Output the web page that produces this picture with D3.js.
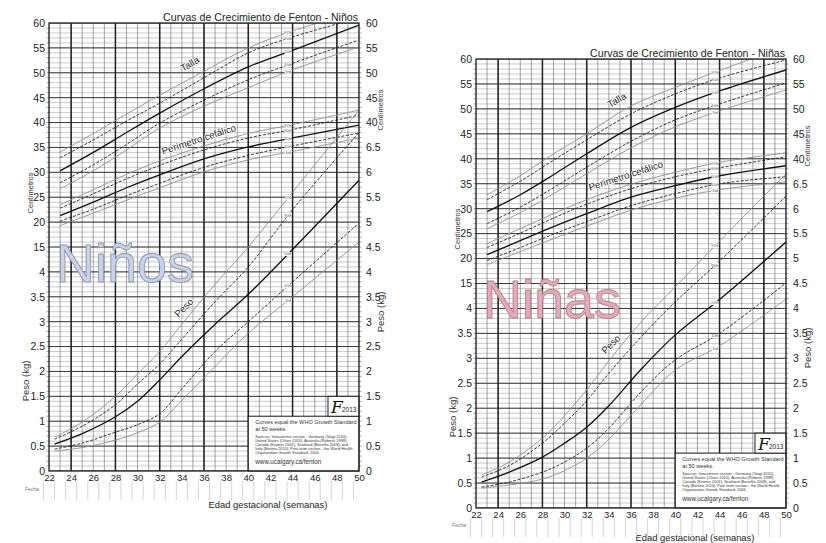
<!doctype html>
<html>
<head>
<meta charset="utf-8"/>
<title>Curvas de Crecimiento de Fenton</title>
<script src="https://d3js.org/d3.v7.min.js"></script>
<style>
body { margin:0; background:#fff; }
svg { display:block; font-family:"Liberation Sans", Arial, sans-serif; }
</style>
</head>
<body>
<div id="grafico"></div>
<script>
// percentiles, de abajo hacia arriba
var percentiles = ["3rd", "10th", "50th", "90th", "97th"];

var semanasCm = [23, 26, 29, 32, 36, 40, 44, 50];
var semanasPeso = [22.5, 25, 28, 30, 32, 34, 37, 40, 44, 50];

// Niños
var ninosTalla = [
  [26.7, 30.3, 34.5, 38.9, 43.3, 47.0, 50.6, 55.2],
  [27.9, 31.5, 35.6, 39.9, 44.5, 48.6, 51.9, 56.6],
  [30.3, 34.0, 38.0, 41.9, 46.8, 51.2, 54.5, 59.6],
  [32.9, 36.5, 40.3, 43.9, 49.0, 54.0, 57.2, 61.0],
  [34.1, 37.8, 41.7, 45.5, 50.3, 55.0, 58.4, 62.5]
];
var ninosCefalico = [
  [19.3, 21.8, 24.4, 26.9, 30.1, 32.5, 34.2, 36.9],
  [20.2, 22.6, 25.3, 27.8, 31.0, 33.4, 35.3, 37.9],
  [21.3, 24.0, 26.9, 29.5, 32.7, 35.1, 36.9, 39.5],
  [22.8, 25.7, 28.7, 31.4, 34.5, 36.9, 38.6, 41.5],
  [23.5, 26.5, 29.6, 32.3, 35.3, 37.8, 39.6, 42.5]
];
var ninosPeso = [
  [0.40, 0.47, 0.62, 0.77, 0.98, 1.42, 2.10, 2.77, 3.50, 4.60],
  [0.44, 0.56, 0.78, 0.93, 1.15, 1.65, 2.40, 3.00, 3.80, 4.98],
  [0.54, 0.75, 1.09, 1.40, 1.83, 2.30, 2.95, 3.55, 4.45, 5.84],
  [0.64, 0.90, 1.33, 1.75, 2.15, 2.65, 3.40, 4.10, 5.25, 6.80],
  [0.68, 0.98, 1.50, 1.95, 2.40, 2.95, 3.75, 4.50, 5.60, 7.25]
];

// Niñas
var ninasTalla = [
  [26.0, 29.2, 33.0, 37.0, 42.2, 46.4, 49.6, 53.8],
  [27.0, 30.3, 34.2, 38.3, 43.5, 47.8, 51.0, 55.2],
  [29.4, 32.8, 36.8, 41.0, 46.3, 50.3, 53.6, 57.8],
  [31.8, 35.5, 39.7, 43.8, 49.0, 53.0, 56.2, 59.8],
  [32.8, 36.6, 41.0, 45.0, 50.6, 54.3, 57.7, 62.5]
];
var ninasCefalico = [
  [18.8, 21.4, 24.0, 26.5, 29.7, 32.1, 33.8, 35.4],
  [19.6, 22.2, 24.9, 27.4, 30.6, 33.0, 35.0, 36.4],
  [20.8, 23.6, 26.4, 29.0, 32.3, 34.6, 36.6, 38.6],
  [22.2, 25.1, 28.1, 30.9, 34.0, 36.4, 38.2, 40.4],
  [23.0, 26.0, 29.0, 31.8, 34.9, 37.3, 39.3, 41.2]
];
var ninasPeso = [
  [0.40, 0.46, 0.58, 0.75, 1.00, 1.38, 2.10, 2.77, 3.25, 4.19],
  [0.42, 0.52, 0.72, 0.92, 1.20, 1.60, 2.35, 2.97, 3.50, 4.51],
  [0.52, 0.72, 1.02, 1.30, 1.62, 2.05, 2.80, 3.47, 4.18, 5.33],
  [0.62, 0.85, 1.30, 1.70, 2.15, 2.70, 3.45, 4.13, 4.95, 6.25],
  [0.66, 0.92, 1.40, 1.85, 2.37, 2.95, 3.75, 4.43, 5.35, 6.70]
];

// etiquetas de los ejes
var ticksSemanas = d3.range(22, 51, 2);
var ticksCmIzq = [15, 20, 25, 30, 35, 40, 45, 50, 55, 60];
var ticksKgIzq = [0, 0.5, 1, 1.5, 2, 2.5, 3, 3.5, 4];
var ticksCmDer = [40, 45, 50, 55, 60];
var ticksKgDer = [0, 0.5, 1, 1.5, 2, 2.5, 3, 3.5, 4, 4.5, 5, 5.5, 6, 6.5];

var fuentes = [
  "Sources: Intrauterine section - Germany (Voigt 2010),",
  "United States (Olsen 2010), Australia (Roberts 1999),",
  "Canada (Kramer 2001), Scotland (Bonellie 2008), and",
  "Italy (Bertino 2010). Post term section - the World Health",
  "Organization Growth Standard, 2006."
];

var svg = d3.select("#grafico").append("svg")
  .attr("width", 826)
  .attr("height", 543);

Grafico({
  id: "ninos", x0: 49, x1: 359, yt: 23, yb: 471,
  titulo: "Curvas de Crecimiento de Fenton - Niños",
  grande: "Niños", relleno: "#c9d3e8", borde: "#8c97ab",
  talla: ninosTalla, cefalico: ninosCefalico, peso: ninosPeso,
  fechaY: 491, ejeY: 508
});
Grafico({
  id: "ninas", x0: 476, x1: 786, yt: 59, yb: 508,
  titulo: "Curvas de Crecimiento de Fenton -  Niñas",
  grande: "Niñas", relleno: "#e9a7bf", borde: "#a88a82",
  talla: ninasTalla, cefalico: ninasCefalico, peso: ninasPeso,
  fechaY: 527, ejeY: 541
});

function Grafico(c)
{
  var g = svg.append("g");
  var x = d3.scaleLinear().domain([22, 50]).range([c.x0, c.x1]);
  var paso = d3.scaleLinear().domain([0, 18]).range([c.yb, c.yt]);
  var yKg = d3.scaleLinear().domain([0, 9]).range([c.yb, c.yt]);
  var yCm = d3.scaleLinear().domain([15, 60]).range([paso(9), c.yt]);

  g.append("clipPath").attr("id", "clip-" + c.id)
    .append("rect")
    .attr("x", c.x0).attr("y", c.yt)
    .attr("width", c.x1 - c.x0).attr("height", c.yb - c.yt);

  var area = g.append("g").attr("clip-path", "url(#clip-" + c.id + ")");

  // rejilla fina
  area.selectAll(".hmin").data(d3.range(0, 90)).enter().append("line")
    .attr("x1", c.x0).attr("x2", c.x1)
    .attr("y1", d => paso(d / 5)).attr("y2", d => paso(d / 5))
    .attr("stroke", "#c4c4c4").attr("stroke-width", 0.9);
  area.selectAll(".vsem").data(d3.range(22, 51)).enter().append("line")
    .attr("x1", d => x(d)).attr("x2", d => x(d))
    .attr("y1", c.yt).attr("y2", c.yb)
    .attr("stroke", "#666").attr("stroke-width", 0.6);
  area.selectAll(".hmaj").data(d3.range(0, 19)).enter().append("line")
    .attr("x1", c.x0).attr("x2", c.x1)
    .attr("y1", d => paso(d)).attr("y2", d => paso(d))
    .attr("stroke", "#3a3a3a").attr("stroke-width", 1);
  area.selectAll(".vmaj").data(d3.range(24, 50, 4)).enter().append("line")
    .attr("x1", d => x(d)).attr("x2", d => x(d))
    .attr("y1", c.yt).attr("y2", c.yb)
    .attr("stroke", "#222").attr("stroke-width", 1.5);

  // marcas exteriores
  [c.x0, c.x1].forEach(function(xx, k) {
    g.selectAll(".tk" + k).data(d3.range(1, 90)).enter().append("line")
      .attr("x1", xx).attr("x2", k ? xx + 2.5 : xx - 2.5)
      .attr("y1", d => paso(d / 5)).attr("y2", d => paso(d / 5))
      .attr("stroke", "#666").attr("stroke-width", 0.6);
  });

  // recuadro informativo
  var bx = x(40), by = yKg(1.1);
  g.append("rect").attr("x", bx).attr("y", by)
    .attr("width", c.x1 - bx).attr("height", c.yb - by)
    .attr("fill", "#fff").attr("stroke", "#222").attr("stroke-width", 1);
  var fx = x(47.2), fy = yKg(1.5);
  g.append("rect").attr("x", fx).attr("y", fy)
    .attr("width", c.x1 - fx).attr("height", by - fy)
    .attr("fill", "#fff").attr("stroke", "#222").attr("stroke-width", 1);
  g.append("text").attr("x", fx + 3).attr("y", by - 3.5)
    .attr("font-family", "DejaVu Serif, serif").attr("font-style", "italic")
    .attr("font-size", 17).attr("fill", "#111").text("F");
  g.append("text").attr("x", fx + 14).attr("y", by - 4)
    .attr("font-size", 6.5).attr("fill", "#222").text("2013");

  var info = g.append("g").attr("fill", "#333");
  info.append("text").attr("x", bx + 7).attr("y", by + 8)
    .attr("font-size", 5.6).text("Curves equal the WHO Growth Standard");
  info.append("text").attr("x", bx + 7).attr("y", by + 14.5)
    .attr("font-size", 5.6).text("at 50 weeks.");
  info.selectAll(".src").data(fuentes).enter().append("text")
    .attr("x", bx + 7).attr("y", (d, i) => by + 22 + i * 4)
    .attr("font-size", 3.9).text(d => d);
  info.append("text").attr("x", bx + 7).attr("y", by + 48)
    .attr("font-size", 6.3).text("www.ucalgary.ca/fenton");

  // texto grande
  g.append("text").attr("x", c.x0 + 7).attr("y", c.yt + 259)
    .attr("font-size", 54).attr("fill", c.relleno)
    .attr("stroke", c.borde).attr("stroke-width", 0.9)
    .text(c.grande);

  // curvas
  var curvas = area.append("g");
  Grupo(curvas, semanasCm, c.talla, x, yCm);
  Grupo(curvas, semanasCm, c.cefalico, x, yCm);
  Grupo(curvas, semanasPeso, c.peso, x, yKg);

  // nombres de las curvas
  Nombre(g, "Talla", x(34.1), yCm(50.2), -30);
  Nombre(g, "Perímetro cefálico", x(32.3), yCm(33.6), -18);
  Nombre(g, "Peso", x(33.7), yKg(3.08), -45);

  // marco
  g.append("rect").attr("x", c.x0).attr("y", c.yt)
    .attr("width", c.x1 - c.x0).attr("height", c.yb - c.yt)
    .attr("fill", "none").attr("stroke", "#222").attr("stroke-width", 1.3);

  // ejes
  Eje(g, d3.axisLeft(yCm).tickValues(ticksCmIzq), c.x0 - 1);
  Eje(g, d3.axisLeft(yKg).tickValues(ticksKgIzq), c.x0 - 1);
  Eje(g, d3.axisRight(yCm).tickValues(ticksCmDer), c.x1 + 4);
  Eje(g, d3.axisRight(yKg).tickValues(ticksKgDer), c.x1 + 4);
  var ex = g.append("g").attr("transform", "translate(0," + c.yb + ")")
    .call(d3.axisBottom(x).tickValues(ticksSemanas).tickSize(0).tickPadding(3));
  ex.select(".domain").remove();
  ex.selectAll("text").attr("font-size", 9.5).attr("fill", "#222")
    .attr("font-family", "Liberation Sans, Arial, sans-serif");

  // titulos
  g.append("text").attr("x", c.x1 - 1).attr("y", c.yt - 2.5)
    .attr("text-anchor", "end").attr("font-size", 10.6).attr("fill", "#222")
    .text(c.titulo);
  Vertical(g, "Centímetros", c.x0 - 18.5, c.yt + 170, 7.5);
  Vertical(g, "Peso (kg)", c.x0 - 24, c.yt + 358, 9.5);
  Vertical(g, "Centímetros", c.x1 + 21, c.yt + 87, 7.5);
  Vertical(g, "Peso (kg)", c.x1 + 21.5, c.yt + 289, 9.5);

  g.append("text").attr("x", (c.x0 + c.x1) / 2 + 64).attr("y", c.ejeY)
    .attr("text-anchor", "middle").attr("font-size", 9.4).attr("fill", "#222")
    .text("Edad gestacional (semanas)");

  // fecha
  g.append("text").attr("x", c.x0 - 24).attr("y", c.fechaY)
    .attr("font-size", 5).attr("fill", "#777").text("Fecha:");
  g.selectAll(".fecha").data(d3.range(21.5, 50, 1)).enter().append("line")
    .attr("x1", d => x(d)).attr("x2", d => x(d))
    .attr("y1", c.yb + 10).attr("y2", c.yb + 29)
    .attr("stroke", "#cfcfcf").attr("stroke-width", 0.9);
}

function Grupo(g, semanas, series, x, y)
{
  var orden = [0, 4, 1, 3, 2];
  var linea = d3.line().x(d => x(d[0])).y(d => y(d[1])).curve(d3.curveCatmullRom.alpha(0.5));
  orden.forEach(function(i) {
    var datos = semanas.map((s, j) => [s, series[i][j]]);
    var p = g.append("path").attr("d", linea(datos)).attr("fill", "none");
    if (i == 0 || i == 4) p.attr("stroke", "#8e8e8e").attr("stroke-width", 0.9);
    else if (i == 2) p.attr("stroke", "#111").attr("stroke-width", 1.3);
    else p.attr("stroke", "#222").attr("stroke-width", 0.9).attr("stroke-dasharray", "3,1.6");
  });
  // etiquetas de percentil
  orden.forEach(function(i) {
    var interp = d3.scaleLinear().domain(semanas).range(series[i]);
    var px = x(43.6), py = y(interp(43.6));
    g.append("rect").attr("x", px - 3.5).attr("y", py - 2)
      .attr("width", 7).attr("height", 4).attr("fill", "#fff");
    g.append("text").attr("x", px).attr("y", py + 1.4)
      .attr("text-anchor", "middle").attr("font-size", 4).attr("fill", "#555")
      .text(percentiles[i]);
  });
}

function Nombre(g, texto, px, py, ang)
{
  g.append("text")
    .attr("transform", "translate(" + px + "," + py + ") rotate(" + ang + ")")
    .attr("font-size", 9.6).attr("fill", "#222")
    .attr("stroke", "#fff").attr("stroke-width", 1.6).attr("paint-order", "stroke")
    .text(texto);
}

function Eje(g, eje, pos)
{
  var e = g.append("g").attr("transform", "translate(" + pos + ",0)")
    .call(eje.tickSize(0).tickPadding(3).tickFormat(d3.format("")));
  e.select(".domain").remove();
  e.selectAll("text").attr("font-size", 10.5).attr("fill", "#222")
    .attr("font-family", "Liberation Sans, Arial, sans-serif");
}

function Vertical(g, texto, px, py, tam)
{
  g.append("text")
    .attr("transform", "translate(" + px + "," + py + ") rotate(-90)")
    .attr("text-anchor", "middle").attr("dominant-baseline", "central")
    .attr("font-size", tam).attr("fill", "#333")
    .text(texto);
}
</script>
</body>
</html>
